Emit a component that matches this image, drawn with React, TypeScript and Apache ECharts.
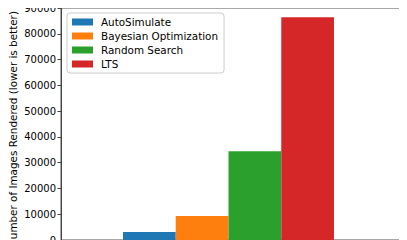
import React, { useEffect, useRef } from "react";
import * as echarts from "echarts";

const methods = ["AutoSimulate", "Bayesian Optimization", "Random Search", "LTS"];
const positions = [-0.3, -0.1, 0.1, 0.3];
const imagesRendered = [3100, 9300, 34400, 86400];
const colors = ["#1f77b4", "#ff7f0e", "#2ca02c", "#d62728"];
const yTicks = [0, 10000, 20000, 30000, 40000, 50000, 60000, 70000, 80000, 90000];

export default function App() {
  const ref = useRef<HTMLDivElement>(null);
  useEffect(() => {
    const chart = echarts.init(ref.current!, null, { renderer: "svg" });
    const font = "DejaVu Sans";
    chart.setOption({
      animation: false,
      textStyle: { fontFamily: font },
      grid: {
        left: 61,
        top: 8,
        width: 357,
        height: 232,
        outerBoundsMode: "none",
        containLabel: false,
        show: true,
        borderColor: "#555",
        borderWidth: 1,
        backgroundColor: "transparent",
      },
      legend: {
        orient: "vertical",
        left: 67,
        top: 13,
        icon: "rect",
        itemWidth: 21,
        itemHeight: 7,
        itemGap: 4,
        padding: [4, 6, 4, 5],
        borderColor: "#cccccc",
        borderWidth: 1,
        borderRadius: 3,
        backgroundColor: "#fff",
        textStyle: { fontFamily: font, fontSize: 10.4, color: "#000", padding: [0, 0, 0, 3] },
        data: methods,
      },
      xAxis: {
        type: "value",
        min: -0.635,
        max: 0.7185,
        show: true,
        axisLine: { show: true, onZero: false, lineStyle: { color: "#555", width: 1 } },
        axisTick: { show: false },
        axisLabel: { show: false },
        splitLine: { show: false },
      },
      yAxis: {
        type: "value",
        min: yTicks[0],
        max: yTicks[yTicks.length - 1],
        interval: yTicks[1] - yTicks[0],
        name: "Number of Images Rendered (lower is better)",
        nameLocation: "middle",
        nameGap: 43.5,
        nameMoveOverlap: false,
        nameTextStyle: { fontFamily: font, fontSize: 10.4, color: "#000", padding: [0, 10, 0, 0] },
        axisLine: { show: true, onZero: false, lineStyle: { color: "#444", width: 1 } },
        axisTick: { show: true, length: 3.5, lineStyle: { color: "#444" } },
        axisLabel: {
          fontFamily: font,
          fontSize: 10,
          color: "#000",
          margin: 5,
          formatter: (v: number) => String(v),
        },
        splitLine: { show: false },
      },
      series: methods.map((m, i) => ({
        name: m,
        type: "bar",
        barWidth: 52.7,
        barGap: "-100%",
        itemStyle: { color: colors[i] },
        data: [[positions[i], imagesRendered[i]]],
      })),
    });
    return () => chart.dispose();
  }, []);
  return <div ref={ref} style={{ width: 407, height: 240, marginLeft: -8, marginTop: -8 }} />;
}
